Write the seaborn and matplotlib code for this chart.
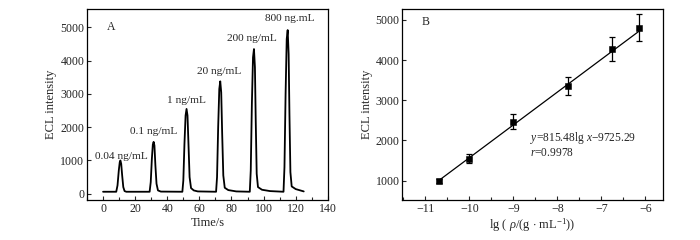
import seaborn as sns
import numpy as np
import pandas as pd
import matplotlib.pyplot as plt
from matplotlib.ticker import MultipleLocator

# panel A: ECL trace, key points
time_s = [0, 8.2, 9.0, 9.8, 10.4, 10.8, 11.3, 11.9, 12.6, 13.4, 14.5,
          29.0, 29.7, 30.4, 31.0, 31.5, 32.0, 32.6, 33.3, 34.2, 36.0,
          49.4, 50.0, 50.7, 51.4, 52.0, 52.6, 53.2, 53.9, 54.8, 56.5, 59.0,
          70.4, 71.0, 71.7, 72.4, 73.0, 73.6, 74.2, 74.9, 75.8, 78.0, 83.0,
          91.4, 92.0, 92.7, 93.4, 94.0, 94.6, 95.1, 95.7, 96.5, 99.0, 104.0,
          112.4, 113.0, 113.7, 114.4, 115.0, 115.6, 116.1, 116.7, 117.5, 120.0, 125.0]
intensity = [60, 60, 250, 700, 950, 1000, 900, 550, 200, 80, 60,
             60, 350, 1050, 1480, 1560, 1450, 850, 300, 100, 65,
             60, 400, 1500, 2350, 2550, 2350, 1500, 500, 170, 100, 70,
             60, 500, 2000, 3150, 3380, 3050, 1800, 550, 180, 110, 70,
             60, 700, 2700, 4100, 4350, 3800, 2200, 600, 200, 120, 80,
             60, 800, 3000, 4650, 4920, 4200, 2400, 650, 220, 140, 70]

peak_labels = ["0.04 ng/mL", "0.1 ng/mL", "1 ng/mL", "20 ng/mL", "200 ng/mL", "800 ng.mL"]
label_x = [11.5, 31.5, 52, 72, 93, 116]
label_y = [1110, 1870, 2800, 3680, 4670, 5270]

# panel B: calibration points
lg_conc = [-10.7, -10.0, -9.0, -7.75, -6.75, -6.15]
ecl_mean = [990, 1550, 2470, 3355, 4265, 4805]
ecl_err = [50, 110, 185, 235, 300, 335]
slope, intercept = 815.48, 9725.29
fit_x = [-10.7, -6.1]

sns.set_style("ticks")
plt.rcParams["font.family"] = ["Liberation Serif", "DejaVu Serif"]
plt.rcParams["mathtext.fontset"] = "custom"
plt.rcParams["mathtext.rm"] = "Liberation Serif"
plt.rcParams["mathtext.it"] = "Liberation Serif:italic"
plt.rcParams["font.size"] = 9

fig = plt.figure(figsize=(7, 2.4), dpi=100)
axA = fig.add_axes([0.1243, 0.165, 0.344, 0.797])
axB = fig.add_axes([0.575, 0.165, 0.372, 0.797])

dfA = pd.DataFrame({"t": time_s, "I": intensity})
sns.lineplot(data=dfA, x="t", y="I", ax=axA, color="black", lw=1.3,
             sort=False, estimator=None)
for s, x, y in zip(peak_labels, label_x, label_y):
    axA.text(x, y, s, ha="center", va="center", fontsize=8.2)
axA.text(4.8, 5000, "A", ha="center", va="center", fontsize=8.5)
axA.set_xlim(-10, 140)
axA.set_ylim(-200, 5550)
axA.xaxis.set_major_locator(MultipleLocator(20))
axA.xaxis.set_minor_locator(MultipleLocator(10))
axA.yaxis.set_major_locator(MultipleLocator(1000))
axA.set_xlabel("Time/s", fontsize=9, labelpad=1)
axA.set_ylabel("ECL intensity", fontsize=9, labelpad=2)

dfB = pd.DataFrame({"x": lg_conc, "y": ecl_mean})
fit_y = [slope * v + intercept for v in fit_x]
sns.lineplot(x=fit_x, y=fit_y, ax=axB, color="black", lw=0.9)
axB.errorbar(lg_conc, ecl_mean, yerr=ecl_err, fmt="none", ecolor="black",
             elinewidth=0.9, capsize=2.5, capthick=0.9)
sns.scatterplot(data=dfB, x="x", y="y", ax=axB, marker="s", s=24,
                color="black", edgecolor="black", zorder=3)
axB.text(-8.62, 2070, "$y$=815.48lg $x$$-$9725.29", ha="left", va="center", fontsize=8.3)
axB.text(-8.62, 1680, "$r$=0.9978", ha="left", va="center", fontsize=8.3)
axB.text(-11.0, 4950, "B", ha="center", va="center", fontsize=8.5)
axB.set_xlim(-11.52, -5.6)
axB.set_ylim(510, 5265)
axB.xaxis.set_major_locator(MultipleLocator(1))
axB.xaxis.set_minor_locator(MultipleLocator(0.5))
axB.yaxis.set_major_locator(MultipleLocator(1000))
axB.set_xlabel(r"lg ( $\rho$/(g $\cdot$ mL$^{-1}$))", fontsize=9, labelpad=1)
axB.set_ylabel("ECL intensity", fontsize=9, labelpad=2)

for ax in (axA, axB):
    ax.tick_params(which="major", direction="in", length=3, width=0.8,
                   labelsize=8.6, pad=2)
    ax.tick_params(which="minor", direction="in", length=2, width=0.8)
    ax.tick_params(axis="y", which="minor", left=False)
    for sp in ax.spines.values():
        sp.set_visible(True)
        sp.set_linewidth(0.9)
        sp.set_color("black")

fig.savefig("out.png", dpi=100)
